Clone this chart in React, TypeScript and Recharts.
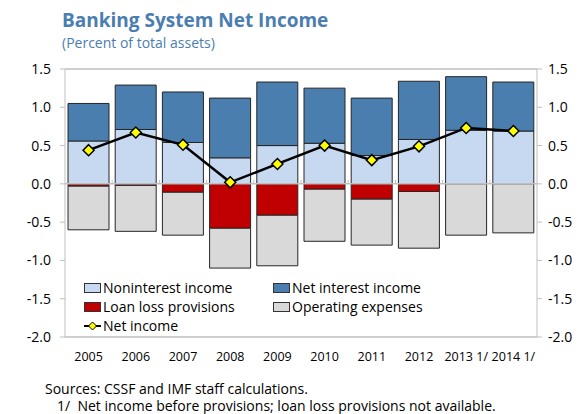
import React from "react";
import { ComposedChart, Bar, Line, XAxis, YAxis, ReferenceLine } from "recharts";

const years = ["2005", "2006", "2007", "2008", "2009", "2010", "2011", "2012", "2013 1/", "2014 1/"];
const nonInterestIncome = [0.56, 0.71, 0.54, 0.34, 0.5, 0.53, 0.37, 0.58, 0.7, 0.69];
const netInterestIncome = [0.49, 0.58, 0.66, 0.78, 0.83, 0.72, 0.75, 0.76, 0.7, 0.64];
const loanLossProvisions = [-0.03, -0.02, -0.11, -0.58, -0.41, -0.07, -0.2, -0.1, 0, 0];
const operatingExpenses = [-0.57, -0.6, -0.56, -0.52, -0.66, -0.68, -0.6, -0.74, -0.67, -0.64];
const netIncome = [0.44, 0.67, 0.51, 0.02, 0.26, 0.5, 0.31, 0.49, 0.73, 0.69];
const yTicks = [-2, -1.5, -1, -0.5, 0, 0.5, 1, 1.5];

const data = years.map((y, i) => ({
  year: y,
  nonInterest: nonInterestIncome[i],
  netInterest: netInterestIncome[i],
  loanLoss: loanLossProvisions[i],
  opex: operatingExpenses[i],
  netIncome: netIncome[i],
}));

const FONT = "'Open Sans', 'DejaVu Sans', sans-serif";
const C_LIGHT = "#C6D9F1";
const C_BLUE = "#4A7EAE";
const C_RED = "#C00000";
const C_GRAY = "#D9D9D9";
const C_AXIS = "#BFBFBF";
const C_TITLE = "#4A7EB0";
const C_EDGE = "#262626";

const Diamond = (props: any) => {
  const { cx, cy } = props;
  if (cx == null || cy == null) return null;
  const r = 5.5;
  return (
    <polygon
      points={`${cx},${cy - r} ${cx + r},${cy} ${cx},${cy + r} ${cx - r},${cy}`}
      fill="#FFFF00"
      stroke="#000"
      strokeWidth={1.5}
    />
  );
};

const ZeroLine = (props: any) => {
  const { x1, x2, y1 } = props;
  if (x1 == null) return null;
  const n = years.length;
  const step = (x2 - x1) / n;
  const ticks = [];
  for (let i = 1; i < n; i++) {
    const x = x1 + step * i;
    ticks.push(<line key={i} x1={x} x2={x} y1={y1} y2={y1 - 4} stroke={C_AXIS} strokeWidth={1} />);
  }
  return (
    <g>
      <line x1={x1} x2={x2} y1={y1} y2={y1} stroke={C_AXIS} strokeWidth={1.5} />
      {ticks}
    </g>
  );
};

const legendItems = [
  { label: "Noninterest income", color: C_LIGHT, kind: "rect" },
  { label: "Net interest income", color: C_BLUE, kind: "rect" },
  { label: "Loan loss provisions", color: C_RED, kind: "rect" },
  { label: "Operating expenses", color: C_GRAY, kind: "rect" },
  { label: "Net income", color: "#FFFF00", kind: "line" },
];

const LegendBox = () => (
  <div
    style={{
      position: "absolute",
      left: 84,
      top: 278,
      display: "grid",
      gridTemplateColumns: "189px 200px",
      fontFamily: FONT,
      fontSize: 14,
      color: "#000",
    }}
  >
    {legendItems.map((it) => (
      <div key={it.label} style={{ display: "flex", alignItems: "center", height: 19, whiteSpace: "nowrap" }}>
        {it.kind === "rect" ? (
          <svg width={18} height={10} style={{ marginRight: 1, flex: "none" }}>
            <rect x={0.5} y={0.5} width={16} height={9} fill={it.color} stroke="#333" strokeWidth={1} />
          </svg>
        ) : (
          <svg width={18} height={10} style={{ marginRight: 1, flex: "none" }}>
            <line x1={0} x2={17} y1={5} y2={5} stroke="#000" strokeWidth={2} />
            <polygon points="8.5,1 12.5,5 8.5,9 4.5,5" fill="#FFFF00" stroke="#000" strokeWidth={1} />
          </svg>
        )}
        <span>{it.label}</span>
      </div>
    ))}
  </div>
);

const fmt = (v: number) => v.toFixed(1);

export default function App() {
  return (
    <div style={{ position: "absolute", left: 0, top: 0, width: 580, height: 414, background: "#fff", fontFamily: FONT }}>
      <div style={{ position: "absolute", left: 62, top: 11, fontSize: 19, lineHeight: 1, fontWeight: 700, color: C_TITLE, whiteSpace: "nowrap" }}>
        Banking System Net Income
      </div>
      <div style={{ position: "absolute", left: 62, top: 36, fontSize: 14, lineHeight: 1, color: C_TITLE, whiteSpace: "nowrap" }}>
        (Percent of total assets)
      </div>
      <ComposedChart
        width={580}
        height={414}
        data={data}
        stackOffset="sign"
        margin={{ top: 69, right: 0, bottom: 50, left: 0 }}
      >
        <XAxis
          dataKey="year"
          axisLine={false}
          tickLine={false}
          tickSize={0}
          tickMargin={15}
          height={27}
          interval={0}
          tick={{ fontSize: 12.5, fill: "#000", fontFamily: FONT }}
        />
        <YAxis
          yAxisId="left"
          domain={[-2, 1.5]}
          ticks={yTicks}
          tickFormatter={fmt}
          width={65}
          stroke={C_AXIS}
          tickSize={5}
          tickMargin={9}
          tick={{ fontSize: 14, fill: "#000", fontFamily: FONT }}
          allowDataOverflow
        />
        <YAxis
          yAxisId="right"
          orientation="right"
          domain={[-2, 1.5]}
          ticks={yTicks}
          tickFormatter={fmt}
          width={43}
          stroke={C_AXIS}
          tickSize={5}
          tickMargin={6}
          tick={{ fontSize: 14, fill: "#000", fontFamily: FONT }}
          allowDataOverflow
        />
        <ReferenceLine yAxisId="left" y={1.5} stroke={C_AXIS} strokeWidth={1.5} />
        <ReferenceLine yAxisId="left" y={-2} stroke={C_AXIS} strokeWidth={1.5} />
        <Bar yAxisId="left" dataKey="nonInterest" stackId="s" fill={C_LIGHT} stroke={C_EDGE} strokeWidth={1} barSize={41} isAnimationActive={false} />
        <Bar yAxisId="left" dataKey="netInterest" stackId="s" fill={C_BLUE} stroke={C_EDGE} strokeWidth={1} barSize={41} isAnimationActive={false} />
        <Bar yAxisId="left" dataKey="loanLoss" stackId="s" fill={C_RED} stroke={C_EDGE} strokeWidth={1} barSize={41} isAnimationActive={false} />
        <Bar yAxisId="left" dataKey="opex" stackId="s" fill={C_GRAY} stroke={C_EDGE} strokeWidth={1} barSize={41} isAnimationActive={false} />
        <ReferenceLine yAxisId="left" y={0} shape={ZeroLine} />
        <Line
          yAxisId="left"
          dataKey="netIncome"
          stroke="#000"
          strokeWidth={2.5}
          dot={<Diamond />}
          activeDot={false}
          isAnimationActive={false}
        />
      </ComposedChart>
      <LegendBox />
      <div style={{ position: "absolute", left: 45, top: 382, fontSize: 14, lineHeight: 1, color: "#000", whiteSpace: "nowrap" }}>
        Sources: CSSF and IMF staff calculations.
      </div>
      <div style={{ position: "absolute", left: 57, top: 399, fontSize: 14, lineHeight: 1, color: "#000", whiteSpace: "pre" }}>
        {"1/  Net income before provisions; loan loss provisions not available."}
      </div>
    </div>
  );
}
